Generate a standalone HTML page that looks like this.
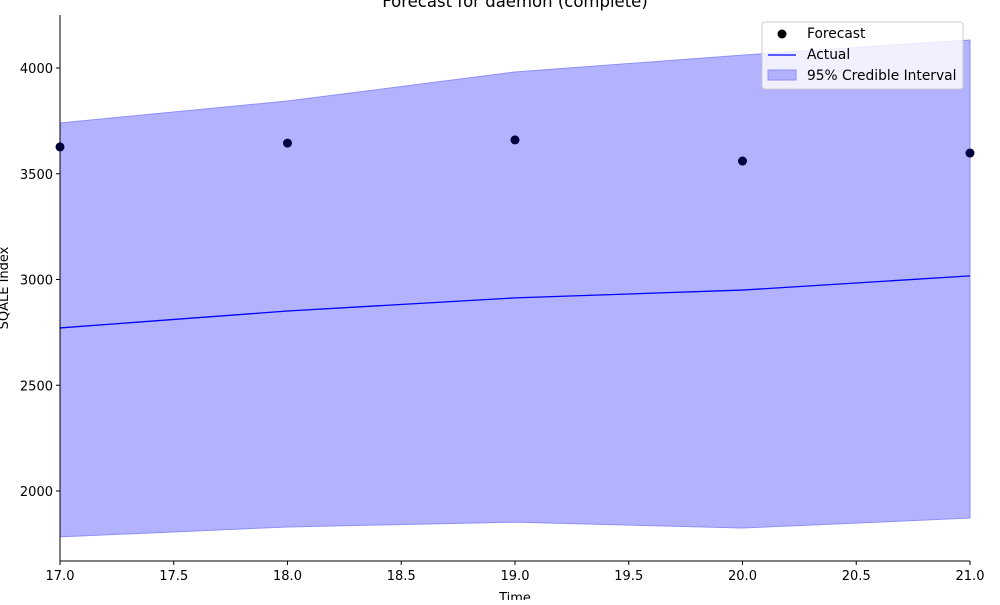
<!DOCTYPE html>
<html><head><meta charset="utf-8"><style>body{margin:0;background:#fff}svg{font-family:"DejaVu Sans","Liberation Sans",sans-serif}</style></head>
<body>
<svg id="c" width="1000" height="600" xmlns="http://www.w3.org/2000/svg"></svg>
<script>
const xs = [17, 18, 19, 20, 21];
const forecast = [3627, 3645, 3660, 3560, 3598];
const actual = [2771, 2851, 2913, 2950, 3017];
const upper = [3740, 3844, 3981, 4061, 4132];
const lower = [1783, 1830, 1853, 1825, 1872];
const xTicks = [17.0, 17.5, 18.0, 18.5, 19.0, 19.5, 20.0, 20.5, 21.0];
const yTicks = [2000, 2500, 3000, 3500, 4000];
const L=60,R=970,T=15,B=561;
const X=v=>L+(v-17)/(21-17)*(R-L);
const Y=v=>68+(4000-v)*(423/2000);
const svg=document.getElementById('c');const NS='http://www.w3.org/2000/svg';
function mk(t,a,p){const e=document.createElementNS(NS,t);for(const k in a)e.setAttribute(k,a[k]);(p||svg).appendChild(e);return e;}
let d='M'+xs.map((x,i)=>X(x)+','+Y(upper[i])).join('L');
for(let i=xs.length-1;i>=0;i--)d+='L'+X(xs[i])+','+Y(lower[i]);
const band=mk('path',{d:d+'Z',fill:'#b2b2ff',stroke:'#8f8ff5','stroke-width':1});


const line=mk('polyline',{points:xs.map((x,i)=>X(x)+','+Y(actual[i])).join(' '),fill:'none',stroke:'#0000ff','stroke-width':1.3});


xs.forEach((x,i)=>{const c=mk('circle',{cx:X(x),cy:Y(forecast[i]),r:4.5,fill:'#000040'});

});
mk('line',{x1:L,y1:T,x2:L,y2:B,stroke:'#000'});
mk('line',{x1:L,y1:B,x2:R,y2:B,stroke:'#000'});
xTicks.forEach(v=>{mk('line',{x1:X(v),y1:B,x2:X(v),y2:B+4,stroke:'#000'});
const t=mk('text',{x:X(v),y:B+19,'text-anchor':'middle','font-size':13});t.textContent=v.toFixed(1);

});
yTicks.forEach(v=>{mk('line',{x1:L-4,y1:Y(v),x2:L,y2:Y(v),stroke:'#000'});
const t=mk('text',{x:L-7,y:Y(v)+5,'text-anchor':'end','font-size':13});t.textContent=v;

});
</script>
<svg width="1000" height="600" style="position:absolute;left:0;top:0">
<text x="515" y="7" text-anchor="middle" font-size="16.5">Forecast for daemon (complete)</text>
<text x="515" y="602" text-anchor="middle" font-size="13">Time</text>
<text transform="translate(8,288) rotate(-90)" text-anchor="middle" font-size="13">SQALE Index</text>
<g>
<rect x="762" y="22" width="201" height="67" rx="3" fill="#fff" fill-opacity="0.8" stroke="#ccc"/>
<circle cx="782" cy="34" r="4.5" fill="#000"/>
<text x="807" y="38" font-size="13.8">Forecast</text>
<line x1="768" y1="55" x2="796" y2="55" stroke="#0000ff" stroke-width="1.3"/>
<text x="807" y="59" font-size="13.8">Actual</text>
<rect x="768" y="70" width="28" height="10" fill="#b2b2ff" stroke="#8f8ff5"/>
<text x="807" y="80" font-size="13.8">95% Credible Interval</text>
</g>
</svg>
</body></html>
